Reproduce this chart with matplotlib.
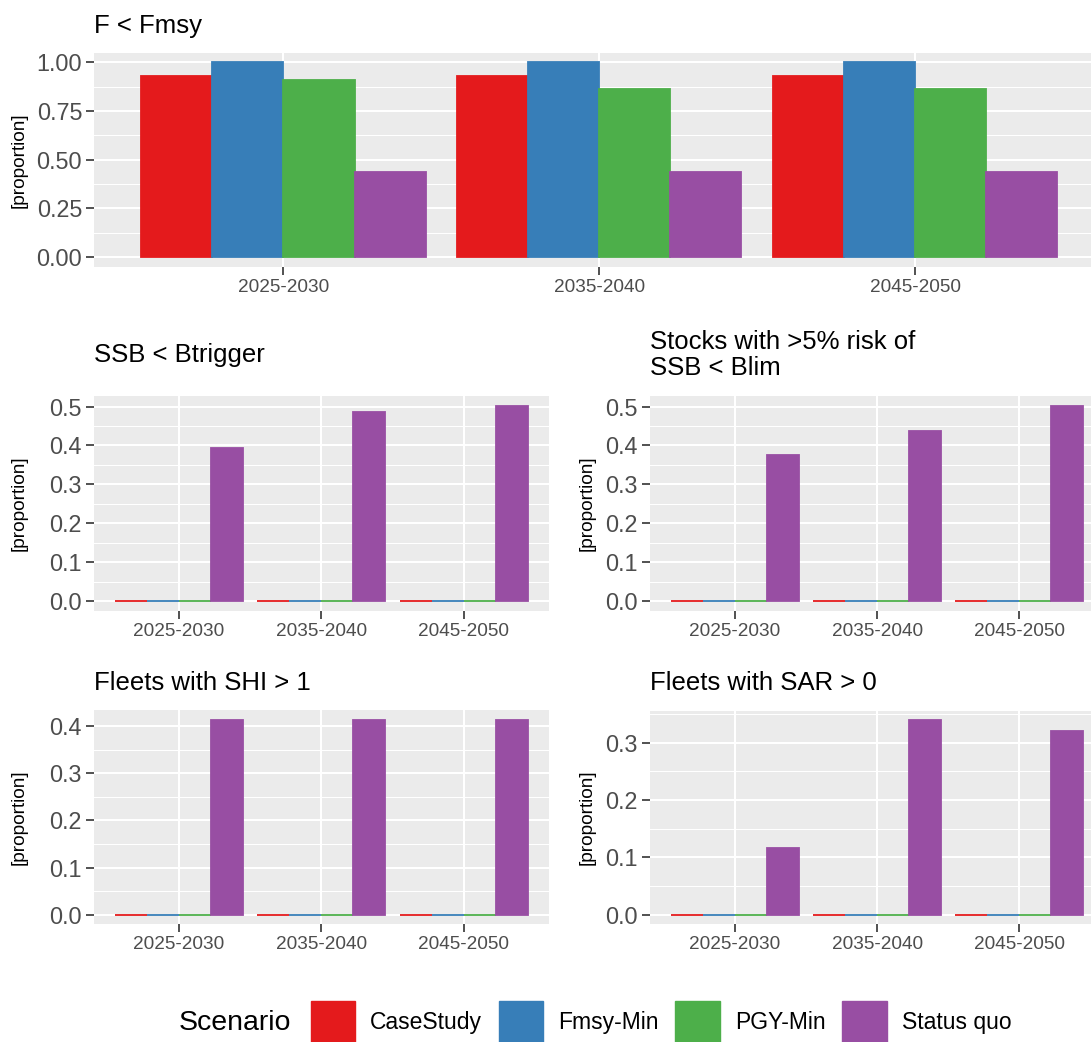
import matplotlib
matplotlib.use("Agg")
import matplotlib.pyplot as plt
import matplotlib.patches as patches
from matplotlib.ticker import MultipleLocator, FormatStrFormatter
import numpy as np

plt.rcParams['font.family'] = ['Liberation Sans', 'DejaVu Sans']

# categories
periods = ["2025-2030", "2035-2040", "2045-2050"]
scenarios = ["CaseStudy", "Fmsy-Min", "PGY-Min", "Status quo"]
colors = ["#E41A1C", "#377EB8", "#4DAF4A", "#984EA3"]

# F < Fmsy
fmsy_casestudy = [0.932, 0.932, 0.932]
fmsy_fmsymin = [1.0, 1.0, 1.0]
fmsy_pgymin = [0.908, 0.865, 0.865]
fmsy_statusquo = [0.435, 0.435, 0.435]

# SSB < Btrigger
btrig_casestudy = [0.0, 0.0, 0.0]
btrig_fmsymin = [0.0, 0.0, 0.0]
btrig_pgymin = [0.0, 0.0, 0.0]
btrig_statusquo = [0.394, 0.487, 0.502]

# Stocks with >5% risk of SSB < Blim
blim_casestudy = [0.0, 0.0, 0.0]
blim_fmsymin = [0.0, 0.0, 0.0]
blim_pgymin = [0.0, 0.0, 0.0]
blim_statusquo = [0.375, 0.436, 0.502]

# Fleets with SHI > 1
shi_casestudy = [0.0, 0.0, 0.0]
shi_fmsymin = [0.0, 0.0, 0.0]
shi_pgymin = [0.0, 0.0, 0.0]
shi_statusquo = [0.414, 0.414, 0.414]

# Fleets with SAR > 0
sar_casestudy = [0.0, 0.0, 0.0]
sar_fmsymin = [0.0, 0.0, 0.0]
sar_pgymin = [0.0, 0.0, 0.0]
sar_statusquo = [0.117, 0.339, 0.321]

W, H = 1091, 1042
fig = plt.figure(figsize=(W / 100, H / 100), dpi=100)


def add_panel(left, top, right, bottom):
    # pixel box -> figure fraction
    return fig.add_axes([left / W, 1 - bottom / H, (right - left) / W, (bottom - top) / H])


def draw_panel(ax, values, step, fmt):
    x = np.arange(1, len(periods) + 1)
    w = 0.9 / len(scenarios)
    for i, vals in enumerate(values):
        ax.bar(x + (i - 1.5) * w, vals, width=w, color=colors[i],
               edgecolor=colors[i], linewidth=1.3, zorder=3)
    ymax = max(max(v) for v in values)
    ax.set_ylim(-0.05 * ymax, 1.05 * ymax)
    ax.set_xlim(0.4, 3.6)
    ax.set_xticks(x)
    ax.set_xticklabels(periods)
    ax.yaxis.set_major_locator(MultipleLocator(step))
    ax.yaxis.set_minor_locator(MultipleLocator(step / 2))
    ax.yaxis.set_major_formatter(FormatStrFormatter(fmt))
    ax.set_facecolor("#EBEBEB")
    ax.grid(which="major", color="white", linewidth=1.5, zorder=0)
    ax.grid(which="minor", axis="y", color="white", linewidth=0.75, zorder=0)
    ax.set_axisbelow(True)
    for s in ax.spines.values():
        s.set_visible(False)
    ax.tick_params(axis="y", which="major", labelsize=16.8, labelcolor="#4D4D4D",
                   color="#333333", length=5.5, width=1.2, pad=3)
    ax.tick_params(axis="x", which="major", labelsize=13.7, labelcolor="#4D4D4D",
                   color="#333333", length=5.5, width=1.2, pad=3)
    ax.tick_params(which="minor", length=0)


# top panel
ax1 = add_panel(94, 52.7, 1104.6, 266.7)
draw_panel(ax1, [fmsy_casestudy, fmsy_fmsymin, fmsy_pgymin, fmsy_statusquo], 0.25, "%.2f")
fig.text(94 / W, 1 - 33 / H, "F < Fmsy", fontsize=18.5, va="baseline", ha="left")
fig.text(19 / W, 1 - 160 / H, "[proportion]", fontsize=13.7, rotation=90, ha="center", va="center")

# middle left
ax2 = add_panel(93.6, 396, 548.9, 610.7)
draw_panel(ax2, [btrig_casestudy, btrig_fmsymin, btrig_pgymin, btrig_statusquo], 0.1, "%.1f")
fig.text(94 / W, 1 - 361.7 / H, "SSB < Btrigger", fontsize=18.5, va="baseline", ha="left")
fig.text(19 / W, 1 - 503 / H, "[proportion]", fontsize=13.7, rotation=90, ha="center", va="center")

# middle right
ax3 = add_panel(649.5, 396, 1104.8, 610.7)
draw_panel(ax3, [blim_casestudy, blim_fmsymin, blim_pgymin, blim_statusquo], 0.1, "%.1f")
fig.text(650 / W, 1 - 375 / H, "Stocks with >5% risk of\nSSB < Blim", fontsize=18.5,
         va="baseline", ha="left", linespacing=1.12)
fig.text(587 / W, 1 - 503 / H, "[proportion]", fontsize=13.7, rotation=90, ha="center", va="center")

# bottom left
ax4 = add_panel(93.6, 710, 548.9, 924.3)
draw_panel(ax4, [shi_casestudy, shi_fmsymin, shi_pgymin, shi_statusquo], 0.1, "%.1f")
fig.text(94 / W, 1 - 690 / H, "Fleets with SHI > 1", fontsize=18.5, va="baseline", ha="left")
fig.text(19 / W, 1 - 817 / H, "[proportion]", fontsize=13.7, rotation=90, ha="center", va="center")

# bottom right
ax5 = add_panel(649.5, 710.5, 1104.8, 924.3)
draw_panel(ax5, [sar_casestudy, sar_fmsymin, sar_pgymin, sar_statusquo], 0.1, "%.1f")
fig.text(650 / W, 1 - 690 / H, "Fleets with SAR > 0", fontsize=18.5, va="baseline", ha="left")
fig.text(587 / W, 1 - 817 / H, "[proportion]", fontsize=13.7, rotation=90, ha="center", va="center")

# legend at the bottom
handles = [patches.Patch(facecolor=c, edgecolor=c) for c in colors]
fig.text(179 / W, 1 - 1023 / H, "Scenario", fontsize=20.5, ha="left", va="center")
fig.legend(handles, scenarios, loc="upper left", bbox_to_anchor=(310.7 / W, 1 - 1000.7 / H),
           ncol=4, frameon=False, fontsize=16.5, handlelength=1.95, handleheight=2.5,
           handletextpad=0.65, columnspacing=0.72, borderpad=0, borderaxespad=0)

fig.savefig("out.png", dpi=100)
